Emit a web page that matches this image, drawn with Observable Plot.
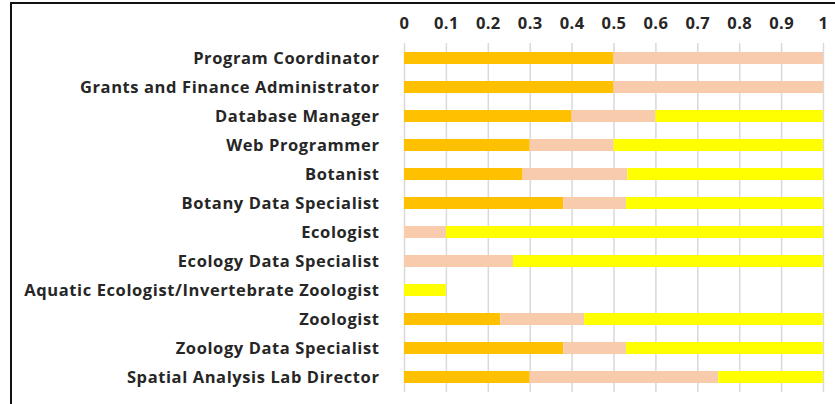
<!DOCTYPE html>
<html>
<head>
<meta charset="utf-8">
<script src="https://cdn.jsdelivr.net/npm/d3@7"></script>
<script src="https://cdn.jsdelivr.net/npm/@observablehq/plot@0.6"></script>
<style>
  html, body { margin: 0; padding: 0; background: #fff; }
  #wrap { position: relative; width: 835px; height: 404px; overflow: hidden; }
  #frame { position: absolute; left: 10px; top: 2px; width: 840px; height: 420px;
           border-top: 2px solid #111; border-left: 2px solid #111; pointer-events: none; }
  g[aria-label="y-axis tick label"] text { letter-spacing: 0.6px; }
  g[aria-label="x-axis tick label"] text { letter-spacing: 0.4px; }
</style>
</head>
<body>
<div id="wrap"><div id="frame"></div></div>
<script>
const categories = [
  "Program Coordinator",
  "Grants and Finance Administrator",
  "Database Manager",
  "Web Programmer",
  "Botanist",
  "Botany Data Specialist",
  "Ecologist",
  "Ecology Data Specialist",
  "Aquatic Ecologist/Invertebrate Zoologist",
  "Zoologist",
  "Zoology Data Specialist",
  "Spatial Analysis Lab Director"
];
const seriesNames = ["Series A", "Series B", "Series C"];
const seriesA = [0.5, 0.5, 0.4, 0.3, 0.283, 0.38, 0, 0, 0, 0.23, 0.38, 0.3];
const seriesB = [0.5, 0.5, 0.2, 0.2, 0.25, 0.15, 0.1, 0.26, 0, 0.2, 0.15, 0.45];
const seriesC = [0, 0, 0.4, 0.5, 0.467, 0.47, 0.9, 0.74, 0.1, 0.57, 0.47, 0.25];
const seriesColors = ["#FFC000", "#F8CBAD", "#FFFF00"];
const xTicks = [0, 0.1, 0.2, 0.3, 0.4, 0.5, 0.6, 0.7, 0.8, 0.9, 1];
const xTickLabels = ["0", "0.1", "0.2", "0.3", "0.4", "0.5", "0.6", "0.7", "0.8", "0.9", "1"];

const allSeries = [seriesA, seriesB, seriesC];
const data = [];
categories.forEach((c, i) => {
  seriesNames.forEach((s, j) => {
    data.push({category: c, series: s, value: allSeries[j][i]});
  });
});

const font = "'Open Sans', Lato, sans-serif";
const chart = Plot.plot({
  width: 835,
  height: 404,
  marginTop: 43,
  marginBottom: 12,
  marginLeft: 404,
  marginRight: 12,
  style: {fontFamily: font, fontWeight: "bold", fontSize: "16.5px", color: "#262626", background: "transparent"},
  x: {domain: [0, 1], axis: null, label: null},
  y: {domain: categories, axis: null, label: null, paddingInner: 0.6, paddingOuter: 0.3},
  color: {domain: seriesNames, range: seriesColors},
  marks: [
    Plot.ruleX(xTicks, {stroke: "#d9d9d9", strokeWidth: 1.5}),
    Plot.barX(data, Plot.stackX({x: "value", y: "category", fill: "series", order: seriesNames, inset: 0})),
    Plot.axisX({anchor: "top", label: null, ticks: xTicks, tickFormat: d => xTickLabels[xTicks.indexOf(d)], tickSize: 0, tickPadding: 15, fontSize: 16.5, fontWeight: "bold", fill: "#262626"}),
    Plot.axisY({anchor: "left", label: null, tickSize: 0, tickPadding: 25, fontSize: 16.5, fontWeight: "bold", fill: "#262626"})
  ]
});
document.getElementById("wrap").prepend(chart);
</script>
</body>
</html>
